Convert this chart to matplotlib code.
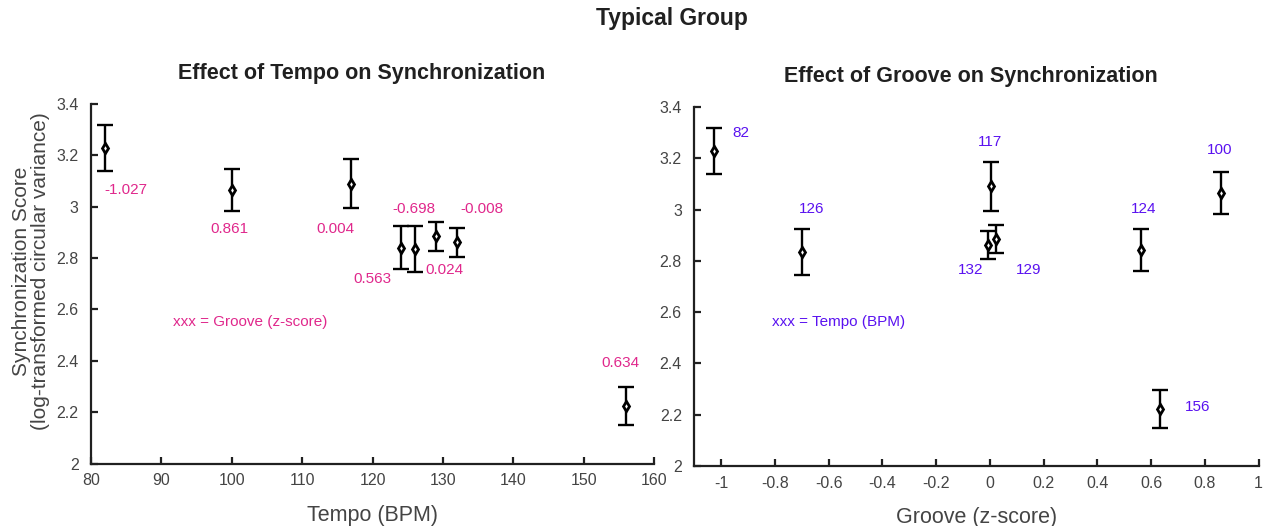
import matplotlib
matplotlib.use("Agg")
import matplotlib.pyplot as plt

# ---- data (tempo order) ----
tempo = [82, 100, 117, 124, 126, 129, 132, 156]
groove = [-1.027, 0.861, 0.004, 0.563, -0.698, 0.024, -0.008, 0.634]
score = [3.229, 3.065, 3.090, 2.841, 2.834, 2.884, 2.862, 2.224]
score_err = [0.090, 0.083, 0.094, 0.082, 0.089, 0.055, 0.056, 0.074]
groove_labels = ["-1.027", "0.861", "0.004", "0.563", "-0.698", "0.024", "-0.008", "0.634"]
tempo_labels = ["82", "100", "117", "124", "126", "129", "132", "156"]

# label placement (data coordinates of text centres)
left_lab_x = [85.0, 99.7, 114.7, 120.0, 125.9, 130.2, 135.5, 155.2]
left_lab_y = [3.066, 2.914, 2.914, 2.718, 2.991, 2.754, 2.991, 2.393]
right_lab_x = [-0.927, 0.855, 0.0, 0.573, -0.663, 0.145, -0.071, 0.773]
right_lab_y = [3.297, 3.232, 3.262, 3.001, 3.002, 2.764, 2.764, 2.231]

left_xticks = [80, 90, 100, 110, 120, 130, 140, 150, 160]
right_xticks = [-1, -0.8, -0.6, -0.4, -0.2, 0, 0.2, 0.4, 0.6, 0.8, 1]
right_xticklabels = ["-1", "-0.8", "-0.6", "-0.4", "-0.2", "0", "0.2", "0.4", "0.6", "0.8", "1"]
yticks = [2, 2.2, 2.4, 2.6, 2.8, 3, 3.2, 3.4]
yticklabels = ["2", "2.2", "2.4", "2.6", "2.8", "3", "3.2", "3.4"]

PINK = "#E0288C"
PURPLE = "#5A12F0"
TICKC = "#444444"

plt.rcParams['font.family'] = ['Liberation Sans', 'DejaVu Sans']

fig = plt.figure(figsize=(12.71, 5.26), dpi=100)
axL = fig.add_axes([0.0716, 0.1188, 0.4430, 0.6835])
axR = fig.add_axes([0.5463, 0.1141, 0.4439, 0.6825])


def style(ax):
    for s in ("top", "right"):
        ax.spines[s].set_visible(False)
    for s in ("left", "bottom"):
        ax.spines[s].set_linewidth(1.6)
        ax.spines[s].set_color("#202020")
    ax.tick_params(direction="in", length=5, width=1.6, colors="#202020",
                   labelcolor=TICKC, labelsize=11.5)
    ax.tick_params(axis="y", pad=9)
    ax.tick_params(axis="x", pad=7)
    ax.set_ylim(2, 3.4)
    ax.set_yticks(yticks)
    ax.set_yticklabels(yticklabels)


def draw(ax, xs):
    ax.errorbar(xs, score, yerr=score_err, fmt="none", ecolor="black",
                elinewidth=1.7, capsize=5.5, capthick=1.7, zorder=2)
    ax.plot(xs, score, linestyle="none", marker="d", markersize=5.5,
            markerfacecolor="white", markeredgecolor="black",
            markeredgewidth=2.0, zorder=3)


# left panel
style(axL)
draw(axL, tempo)
axL.set_xlim(80, 160)
axL.set_xticks(left_xticks)
for lx, ly, t in zip(left_lab_x, left_lab_y, groove_labels):
    axL.text(lx, ly, t, color=PINK, fontsize=11, ha="center", va="center")
axL.text(102.6, 2.552, "xxx = Groove (z-score)", color=PINK, fontsize=11,
         ha="center", va="center")
axL.set_xlabel("Tempo (BPM)", fontsize=15.5, color=TICKC, labelpad=12)
axL.set_ylabel("Synchronization Score\n(log-transformed circular variance)",
               fontsize=15, color=TICKC, linespacing=1.0)
axL.yaxis.set_label_coords(-0.072, 0.535)
axL.set_title("Effect of Tempo on Synchronization", fontsize=15.5,
              fontweight="bold", color="#202020", pad=18, x=0.48)

# right panel
style(axR)
draw(axR, groove)
axR.set_xlim(-1.1, 1)
axR.set_xticks(right_xticks)
axR.set_xticklabels(right_xticklabels)
for lx, ly, t in zip(right_lab_x, right_lab_y, tempo_labels):
    axR.text(lx, ly, t, color=PURPLE, fontsize=11, ha="center", va="center")
axR.text(-0.565, 2.56, "xxx = Tempo (BPM)", color=PURPLE, fontsize=11,
         ha="center", va="center")
axR.set_xlabel("Groove (z-score)", fontsize=15.5, color=TICKC, labelpad=12)
axR.set_title("Effect of Groove on Synchronization", fontsize=15.5,
              fontweight="bold", color="#202020", pad=18, x=0.49)

fig.text(0.529, 0.964, "Typical Group", fontsize=16.5, fontweight="bold",
         color="#202020", ha="center", va="center")

fig.savefig("out.png", dpi=100)
